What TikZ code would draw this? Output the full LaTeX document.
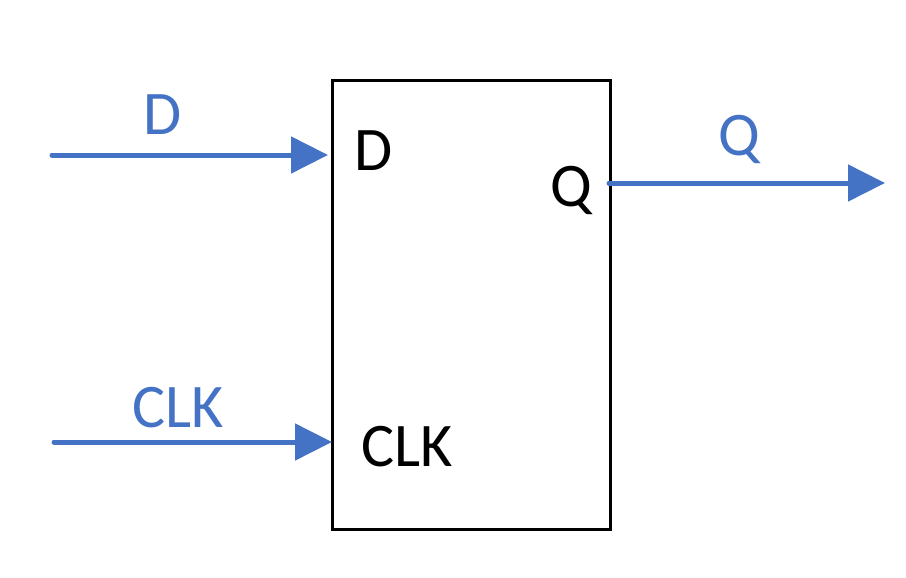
\documentclass[tikz,border=0pt]{standalone}
\usepackage{fontspec}
\setmainfont{Carlito}
\usetikzlibrary{arrows.meta}
\definecolor{sigblue}{HTML}{4472C4}
\tikzset{
  sig/.style={draw=sigblue, line width=5pt, line cap=round, -{Triangle[length=37pt,width=36pt]}},
  blk/.style={draw=black, line width=3pt},
  lbl/.style={inner sep=0pt, anchor=base, font=\fontsize{62}{64}\selectfont},
  bluelbl/.style={lbl, text=sigblue},
  blacklbl/.style={lbl, text=black}
}
\begin{document}
\begin{tikzpicture}[x=1pt,y=-1pt]
\useasboundingbox[fill=white] (0,0) rectangle (906,578);
\node[blk, minimum width=278pt, minimum height=449pt, inner sep=0pt, anchor=north west] (box) at (331,79) {};
\coordinate (din) at (52,155);
\coordinate (dend) at (328,155);
\coordinate (clkin) at (54,442);
\coordinate (clkend) at (332,442);
\coordinate (qstart) at (609,183);
\coordinate (qout) at (885,183);
\draw[sig] (din) -- (dend);
\draw[sig] (clkin) -- (clkend);
\draw[sig] (qstart) -- (qout);
\node[bluelbl] (dlab) at (163,135) {D};
\node[bluelbl] (clklab) at (178,427) {CLK};
\node[bluelbl] (qlab) at (739,156) {Q};
\node[blacklbl] (dpin) at (374,170) {D};
\node[blacklbl] (clkpin) at (407,466) {CLK};
\node[blacklbl] (qpin) at (571,206) {Q};
\end{tikzpicture}
\end{document}
